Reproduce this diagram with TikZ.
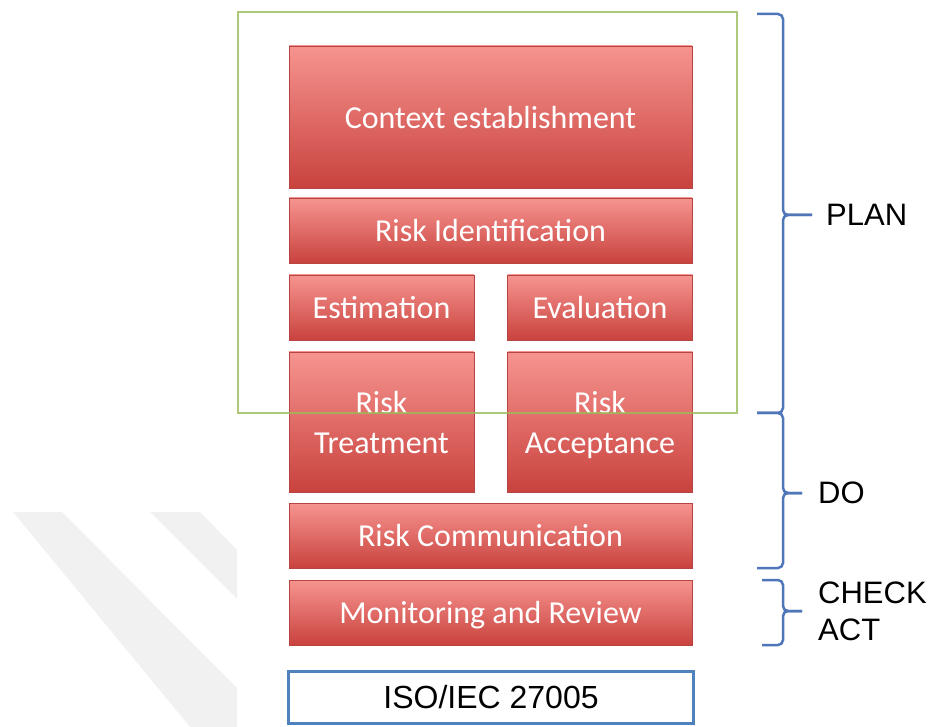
\documentclass[tikz,border=0pt]{standalone}
\usepackage{fontspec}
\setmainfont{Carlito}
\newfontfamily\arialfont{Liberation Sans}
\usetikzlibrary{positioning}
\definecolor{riskTop}{HTML}{F6948F}
\definecolor{riskBot}{HTML}{C9423E}
\definecolor{riskEdge}{HTML}{B84441}
\definecolor{planGreen}{HTML}{9BBB59}
\definecolor{pdcaBlue}{HTML}{4F76B8}
\definecolor{isoBlue}{HTML}{4F81BD}
\definecolor{markGray}{HTML}{F1F1F1}

\begin{document}
\begin{tikzpicture}[x=1pt,y=-1pt,
  riskbox/.style={draw=riskEdge,line width=0.8pt,top color=riskTop,bottom color=riskBot,
    text=white,inner sep=0pt,text depth=0pt,align=center,font=\fontsize{32}{40}\selectfont},
  pdcabrace/.style={draw=pdcaBlue,line width=2.5pt,rounded corners=5pt},
  pdcalab/.style={font=\arialfont\fontsize{31}{37}\selectfont,align=left,inner sep=0pt}]
\useasboundingbox (0,0) rectangle (943,727);
% faint watermark stripes
\fill[markGray] (13,512) -- (62,512) -- (237,688) -- (237,727) -- (190,727) -- cycle;
\fill[markGray] (150,512) -- (200,512) -- (237,550) -- (237,599) -- cycle;
% full-width steps
\foreach \nm/\y/\h/\lab in {ctx/117/142/Context establishment,ident/230.5/65/Risk Identification,
  comm/535.5/65/Risk Communication,mon/612.5/65/Monitoring and Review}
  \node[riskbox,minimum width=403pt,minimum height=\h pt] (\nm) at (490.5,\y) {\lab};
% half-width steps
\foreach \nm/\x/\y/\h/\lab in {est/381.5/307.5/65/Estimation,eval/600/307.5/65/Evaluation,
  treat/381.5/422/140/Risk\\Treatment,accept/600/422/140/Risk\\Acceptance}
  \node[riskbox,minimum width=185pt,minimum height=\h pt] (\nm) at (\x,\y) {\lab};
% plan frame
\draw[planGreen,line width=2.5pt,draw opacity=0.8] (238,12) rectangle (737,413);
\node[draw=isoBlue,line width=3pt,fill=white,minimum width=405pt,minimum height=52pt,
  font=\arialfont\fontsize{32}{38}\selectfont] (iso) at (491,697.5) {ISO/IEC 27005};
% PDCA braces
\foreach \nm/\yt/\yb/\ym/\hk/\tip in {plan/14/413/215/757/812,do/413/568/493/757/802,check/580/645/611/762/802}{
  \coordinate (\nm-tip) at (\tip,\ym);
  \draw[pdcabrace] (\hk,\yt) -- (783,\yt) -- (783,\ym) -- (\nm-tip);
  \draw[pdcabrace] (\hk,\yb) -- (783,\yb) -- (783,\ym) -- (\nm-tip);
}
\node[pdcalab,right=14pt of plan-tip] (planLab) {PLAN};
\node[pdcalab,right=16pt of do-tip] (doLab) {DO};
\node[pdcalab,right=16pt of check-tip] (checkLab) {CHECK\\ACT};
\end{tikzpicture}
\end{document}
